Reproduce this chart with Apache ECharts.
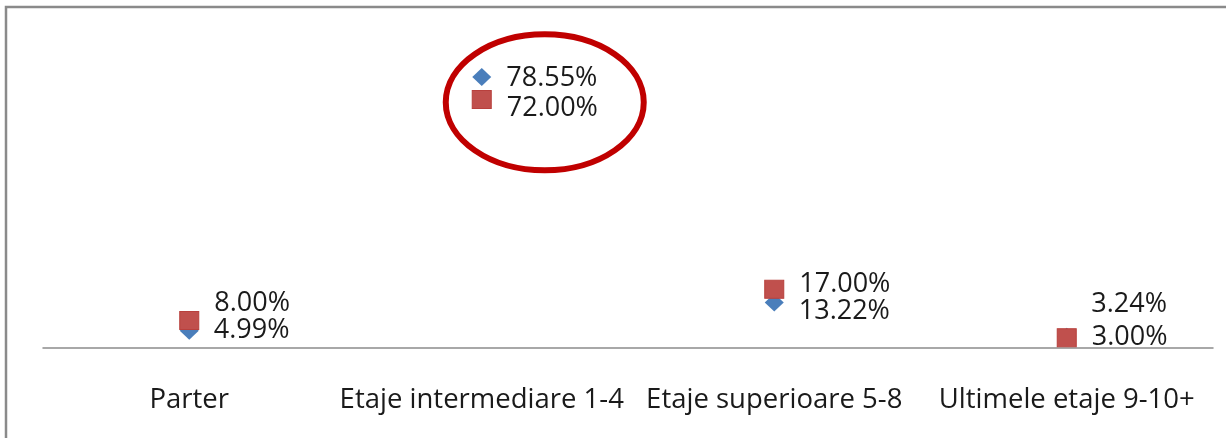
<!DOCTYPE html>
<html>
<head>
<meta charset="utf-8">
<script src="https://cdn.jsdelivr.net/npm/echarts@6/dist/echarts.min.js"></script>
<style>
    html, body { margin: 0; padding: 0; background: #fff; }
    #main { width: 1226px; height: 438px; }
</style>
</head>
<body>
<div id="main"></div>
<script>
// categorii si valori (procente)
let categories = ['Parter', 'Etaje intermediare 1-4', 'Etaje superioare 5-8', 'Ultimele etaje 9-10+'];
let blueValues = [4.99, 78.55, 13.22, 3.24];
let redValues = [8.00, 72.00, 17.00, 3.00];

// deplasare verticala a etichetelor (ca in Excel, sa nu se suprapuna)
let blueLabelShift = [0, 1, 9, -33];
let redLabelShift = [-17, 9, -5, 0];

let labelFont = '"Open Sans", sans-serif';

let buildData = function (values, shifts) {
    return values.map(function (v, i) {
        return {
            value: v,
            label: { offset: [0, shifts[i]] }
        };
    });
};

let labelStyle = {
    show: true,
    position: 'right',
    distance: 15,
    fontFamily: labelFont,
    fontSize: 27,
    color: '#1a1a1a',
    formatter: function (p) {
        return p.value.toFixed(2) + '%';
    }
};

let chart = echarts.init(document.getElementById('main'));
chart.setOption({
    animation: false,
    backgroundColor: '#fff',
    grid: {
        left: 43,
        right: 13,
        top: 37.5,
        bottom: 90,
        containLabel: false,
        outerBoundsMode: 'none'
    },
    xAxis: {
        type: 'category',
        data: categories,
        boundaryGap: true,
        axisTick: { show: false },
        axisLine: { lineStyle: { color: '#8c8c8c', width: 1.5 } },
        axisLabel: {
            margin: 38,
            fontFamily: labelFont,
            fontSize: 27.5,
            color: '#1a1a1a',
            interval: 0
        },
        splitLine: { show: false }
    },
    yAxis: {
        type: 'value',
        min: 0,
        max: 90,
        show: false,
        splitLine: { show: false }
    },
    series: [{
        name: 'blue',
        type: 'scatter',
        symbol: 'diamond',
        symbolSize: [19, 18],
        itemStyle: { color: '#4a7ebb', opacity: 1 },
        label: labelStyle,
        data: buildData(blueValues, blueLabelShift)
    }, {
        name: 'red',
        type: 'scatter',
        symbol: 'rect',
        symbolSize: [19, 18],
        itemStyle: { color: '#c0504d', borderColor: '#b8403d', borderWidth: 1, opacity: 1 },
        label: labelStyle,
        data: buildData(redValues, redLabelShift)
    }]
});

// chenar + elipsa rosie in jurul valorii maxime
let pBlue = chart.convertToPixel({ seriesIndex: 0 }, [1, blueValues[1]]);
let pRed = chart.convertToPixel({ seriesIndex: 1 }, [1, redValues[1]]);
chart.setOption({
    graphic: [{
        type: 'rect',
        shape: { x: 6, y: 7, width: 1400, height: 600 },
        style: { fill: null, stroke: '#8a8a8a', lineWidth: 2.5 },
        silent: true
    }, {
        type: 'ellipse',
        shape: {
            cx: pBlue[0] + 63,
            cy: (pBlue[1] + pRed[1]) / 2 + 14,
            rx: 99,
            ry: 68
        },
        style: { fill: null, stroke: '#c00000', lineWidth: 6 },
        silent: true
    }]
});
</script>
</body>
</html>
